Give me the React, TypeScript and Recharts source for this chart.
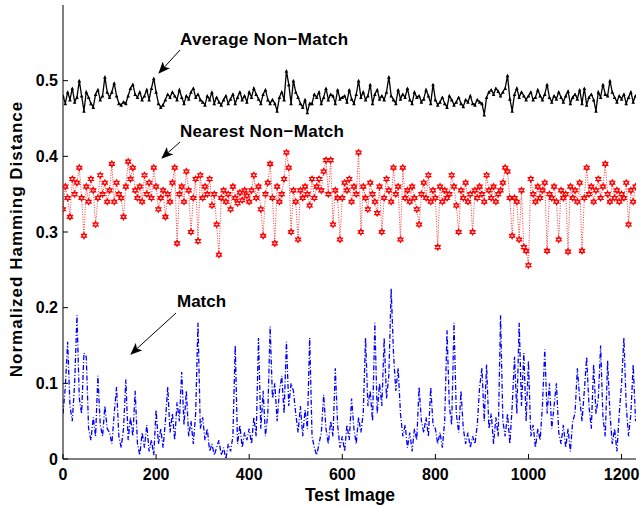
import { LineChart, Line, XAxis, YAxis } from 'recharts';

// sampled every 5 test images, values in thousandths of normalized HD
const STEP = 5;

const MATCH = [
  60, 95, 155, 70, 50, 100, 190, 80, 60, 140, 135, 40, 25, 55, 30, 110, 45, 30, 70, 40,
  35, 20, 60, 95, 30, 15, 40, 105, 25, 55, 30, 90, 20, 5, 35, 15, 45, 10, 25, 5,
  65, 20, 40, 15, 50, 95, 35, 60, 25, 75, 50, 115, 45, 90, 30, 50, 20, 60, 180, 40,
  55, 25, 40, 10, 20, 5, 15, 25, 5, 15, 0, 20, 10, 30, 150, 20, 45, 15, 35, 25,
  40, 20, 55, 30, 160, 40, 90, 30, 60, 175, 80, 100, 50, 90, 110, 60, 155, 70, 100, 90,
  60, 35, 70, 30, 65, 40, 160, 30, 15, 5, 20, 35, 85, 40, 20, 50, 30, 120, 45, 15,
  30, 10, 45, 25, 80, 40, 20, 55, 35, 60, 160, 70, 90, 50, 180, 60, 100, 70, 160, 80,
  110, 225, 140, 90, 120, 60, 30, 45, 15, 35, 10, 40, 25, 95, 50, 35, 55, 30, 95, 45,
  40, 20, 35, 15, 50, 170, 70, 45, 180, 60, 35, 90, 40, 20, 35, 15, 30, 20, 45, 95,
  120, 50, 125, 40, 60, 20, 55, 30, 190, 50, 30, 60, 20, 70, 135, 60, 180, 70, 140, 50,
  130, 30, 45, 15, 40, 25, 70, 145, 60, 100, 40, 70, 100, 35, 20, 45, 15, 40, 10, 50,
  60, 120, 80, 50, 90, 135, 70, 40, 125, 60, 80, 150, 55, 30, 130, 60, 20, 40, 10, 60,
  100, 160, 70, 30, 60, 125, 50,
];

const AVERAGE = [
  480, 470, 485, 475, 490, 472, 478, 500, 480, 460, 485, 478, 470, 465, 482, 488, 475, 480, 505, 485,
  478, 485, 497, 480, 470, 468, 472, 470, 480, 490, 495, 482, 478, 485, 475, 480, 488, 475, 490, 503,
  485, 470, 465, 468, 475, 482, 478, 485, 480, 475, 488, 478, 470, 480, 476, 485, 490, 478, 482, 475,
  472, 468, 480, 475, 485, 470, 478, 472, 468, 475, 480, 470, 476, 482, 470, 478, 485, 475, 480, 472,
  485, 478, 490, 482, 476, 470, 482, 488, 475, 470, 475, 470, 460, 478, 485, 475, 513, 495, 470, 500,
  485, 478, 470, 465, 475, 458, 470, 470, 482, 478, 485, 470, 478, 490, 475, 482, 480, 470, 488, 476,
  478, 480, 472, 488, 476, 470, 482, 500, 478, 485, 475, 480, 495, 470, 482, 488, 476, 480, 475, 485,
  505, 480, 475, 470, 488, 476, 482, 478, 490, 475, 470, 485, 478, 480, 472, 476, 488, 480, 470, 495,
  475, 468, 472, 478, 470, 465, 480, 475, 468, 472, 478, 470, 466, 475, 472, 480, 470, 468, 475, 472,
  470, 455, 478, 485, 488, 482, 490, 486, 480, 485, 490, 507, 476, 460, 482, 490, 478, 485, 480, 475,
  480, 485, 475, 478, 488, 480, 475, 482, 495, 478, 472, 480, 476, 485, 478, 472, 480, 486, 470, 478,
  482, 476, 488, 470, 490, 468, 478, 482, 475, 460, 485, 478, 495, 482, 480, 500, 485, 478, 472, 480,
  476, 482, 470, 478, 485, 472, 480,
];

const NEAREST = [
  330, 360, 345, 320, 370, 350, 365, 385, 345, 295, 360, 340, 370, 355, 310, 345, 375, 350, 365, 340,
  355, 390, 340, 365, 350, 345, 320, 360, 393, 370, 385, 355, 345, 360, 340, 375, 350, 365, 345, 385,
  360, 330, 345, 355, 320, 350, 340, 365, 385, 285, 350, 360, 340, 380, 355, 300, 345, 370, 288, 375,
  345, 360, 350, 370, 335, 350, 310, 270, 345, 355, 340, 350, 330, 360, 345, 338, 352, 342, 355, 348,
  340, 355, 375, 345, 360, 330, 295, 350, 365, 390, 345, 285, 360, 340, 350, 370, 405, 385, 300, 355,
  340, 290, 355, 345, 360, 350, 335, 370, 345, 360, 370, 355, 380, 395, 350, 395, 310, 355, 345, 290,
  345, 365, 355, 370, 340, 360, 350, 405, 300, 360, 345, 330, 365, 350, 340, 325, 360, 300, 345, 370,
  355, 340, 385, 350, 360, 290, 385, 345, 355, 340, 360, 345, 330, 310, 350, 365, 345, 375, 340, 355,
  345, 280, 360, 340, 355, 345, 350, 375, 360, 335, 300, 355, 345, 365, 340, 350, 300, 355, 345, 360,
  350, 340, 375, 355, 345, 360, 340, 350, 355, 365, 385, 380, 345, 295, 345, 340, 290, 355, 280, 275,
  256, 370, 350, 340, 360, 345, 355, 365, 275, 350, 345, 360, 340, 290, 355, 345, 350, 274, 360, 345,
  355, 340, 365, 275, 345, 385, 350, 360, 340, 355, 370, 345, 360, 390, 350, 340, 365, 345, 355, 340,
  350, 345, 365, 310, 355, 340, 360,
];

const X_TICKS = [0, 200, 400, 600, 800, 1000, 1200];
const Y_TICKS = [0, 0.1, 0.2, 0.3, 0.4, 0.5];
const X_MAX = 1231;

const data = MATCH.map((m, i) => ({
  img: i * STEP,
  match: m / 1000,
  average: AVERAGE[i] / 1000,
  nearest: NEAREST[i] / 1000,
}));

const FONT = '"Liberation Sans", Arial, Helvetica, sans-serif';
const tickStyle = { fill: '#000', fontSize: 16, fontWeight: 'bold', fontFamily: FONT };

function StarDot(props: any) {
  const { cx, cy, index } = props;
  if (cx == null || cy == null) return null;
  const r = 3;
  const h = r * 0.866;
  const d =
    `M${cx},${cy - r}L${cx + h},${cy + r / 2}L${cx - h},${cy + r / 2}Z` +
    `M${cx},${cy + r}L${cx + h},${cy - r / 2}L${cx - h},${cy - r / 2}Z`;
  return <path key={`s${index}`} d={d} fill="none" stroke="#ff0000" strokeWidth={1.1} />;
}

function TriDot(props: any) {
  const { cx, cy, index } = props;
  if (cx == null || cy == null) return null;
  const r = 1.8;
  return (
    <path
      key={`t${index}`}
      d={`M${cx},${cy - r}L${cx + r},${cy + r}L${cx - r},${cy + r}Z`}
      fill="#000"
    />
  );
}

export default function App() {
  return (
    <div style={{ position: 'absolute', left: 0, top: 0, width: 641, height: 508, background: '#fff' }}>
      <LineChart
        width={641}
        height={508}
        data={data}
        margin={{ top: 5, right: 5, bottom: 0, left: 0 }}
      >
        <XAxis
          dataKey="img"
          type="number"
          domain={[0, X_MAX]}
          ticks={X_TICKS}
          allowDataOverflow
          height={49}
          tickSize={-5}
          tickMargin={15}
          tick={tickStyle}
          stroke="#000"
        />
        <XAxis
          xAxisId="top"
          dataKey="img"
          orientation="top"
          type="number"
          domain={[0, X_MAX]}
          ticks={X_TICKS}
          allowDataOverflow
          height={0}
          tickSize={-5}
          tick={false}
          stroke="#000"
        />
        <YAxis
          type="number"
          domain={[0, 0.6]}
          ticks={Y_TICKS}
          allowDataOverflow
          width={63}
          tickSize={-5}
          tickMargin={10}
          tick={tickStyle}
          stroke="#000"
        />
        <YAxis
          yAxisId="right"
          orientation="right"
          type="number"
          domain={[0, 0.6]}
          ticks={Y_TICKS}
          allowDataOverflow
          width={0}
          tickSize={-5}
          tick={false}
          stroke="#000"
        />
        <Line
          dataKey="match"
          stroke="#0000ff"
          strokeWidth={1.3}
          strokeDasharray="5 2 1 2"
          dot={false}
          isAnimationActive={false}
        />
        <Line
          dataKey="nearest"
          stroke="#ff0000"
          strokeWidth={0.8}
          strokeDasharray="1 1.5"
          dot={StarDot}
          isAnimationActive={false}
        />
        <Line
          dataKey="average"
          stroke="#000"
          strokeWidth={1.3}
          dot={TriDot}
          isAnimationActive={false}
        />
      </LineChart>

      <svg
        width={641}
        height={508}
        style={{ position: 'absolute', left: 0, top: 0, pointerEvents: 'none' }}
        fontFamily={FONT}
        fontWeight="bold"
      >
        <defs>
          <marker id="head" viewBox="0 0 12 10" refX="11" refY="5" markerWidth="12" markerHeight="10" markerUnits="userSpaceOnUse" orient="auto">
            <path d="M0,0L12,5L0,10L3,5Z" fill="#000" />
          </marker>
        </defs>
        <text x={180} y={45} fontSize={17} letterSpacing={0.3}>Average Non−Match</text>
        <line x1={180} y1={50} x2={159} y2={73} stroke="#000" strokeWidth={1} markerEnd="url(#head)" />
        <text x={180} y={137} fontSize={17} letterSpacing={0.3}>Nearest Non−Match</text>
        <line x1={180} y1={142} x2={162} y2={158} stroke="#000" strokeWidth={1} markerEnd="url(#head)" />
        <text x={177} y={307} fontSize={17}>Match</text>
        <line x1={176} y1={313} x2={131} y2={354} stroke="#000" strokeWidth={1} markerEnd="url(#head)" />
        <text x={350} y={501} fontSize={17.5} textAnchor="middle">Test Image</text>
        <text x={22} y={239} fontSize={17} letterSpacing={1} textAnchor="middle" transform="rotate(-90 22 239)">
          Normalized Hamming Distance
        </text>
      </svg>
    </div>
  );
}
